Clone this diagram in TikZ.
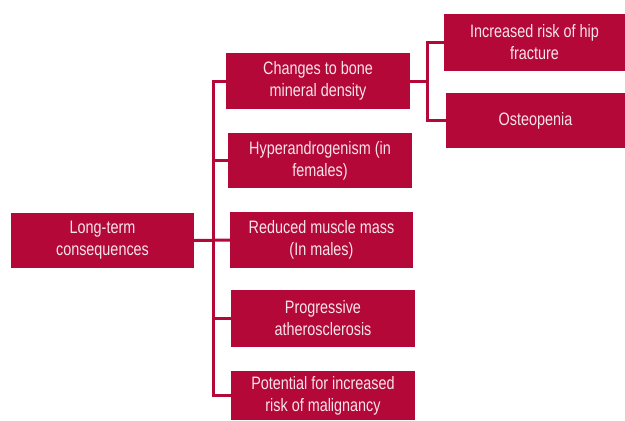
\documentclass[tikz,border=0pt]{standalone}
\usepackage{fontspec}
\setmainfont[FakeStretch=0.8]{Liberation Sans}
\definecolor{crim}{RGB}{179,8,56}
\definecolor{txt}{RGB}{247,228,234}
\begin{document}
\begin{tikzpicture}[x=1pt,y=-1pt,
  box/.style={fill=crim,text=txt,align=center,inner sep=0pt,
    font=\fontsize{18}{22}\selectfont},
  link/.style={draw=crim,line width=3pt}]
\useasboundingbox (0,0) rectangle (625,421);
\node[box,minimum width=183,minimum height=55] (lt) at (102.5,240.5) {Long-term\\consequences};
\node[box,minimum width=184,minimum height=56] (cb) at (318,81) {Changes to bone\\mineral density};
\node[box,minimum width=184,minimum height=55] (hy) at (320,160.5) {Hyperandrogenism (in\\females)};
\node[box,minimum width=183,minimum height=56] (rm) at (321.5,240) {Reduced muscle mass\\(In males)};
\node[box,minimum width=184,minimum height=57] (pa) at (323,318.5) {Progressive\\atherosclerosis};
\node[box,minimum width=184,minimum height=49] (pr) at (323,395.5) {Potential for increased\\risk of malignancy};
\node[box,minimum width=181,minimum height=57] (hip) at (534.5,42.5) {Increased risk of hip\\fracture};
\node[box,minimum width=179,minimum height=55] (os) at (535.5,120.5) {Osteopenia};
\coordinate (t) at (213,0);
\coordinate (t2) at (427,0);
\draw[link] (cb.west) -- (cb.west -| t) |- (pr.west);
\draw[link] (hy.west) -- (hy.west -| t);
\draw[link] (lt.east) -- (rm.west);
\draw[link] (pa.west) -- (pa.west -| t);
\draw[link] (cb.east) -- (cb.east -| t2);
\draw[link] (hip.west) -- (hip.west -| t2) |- (os.west);
\end{tikzpicture}
\end{document}
